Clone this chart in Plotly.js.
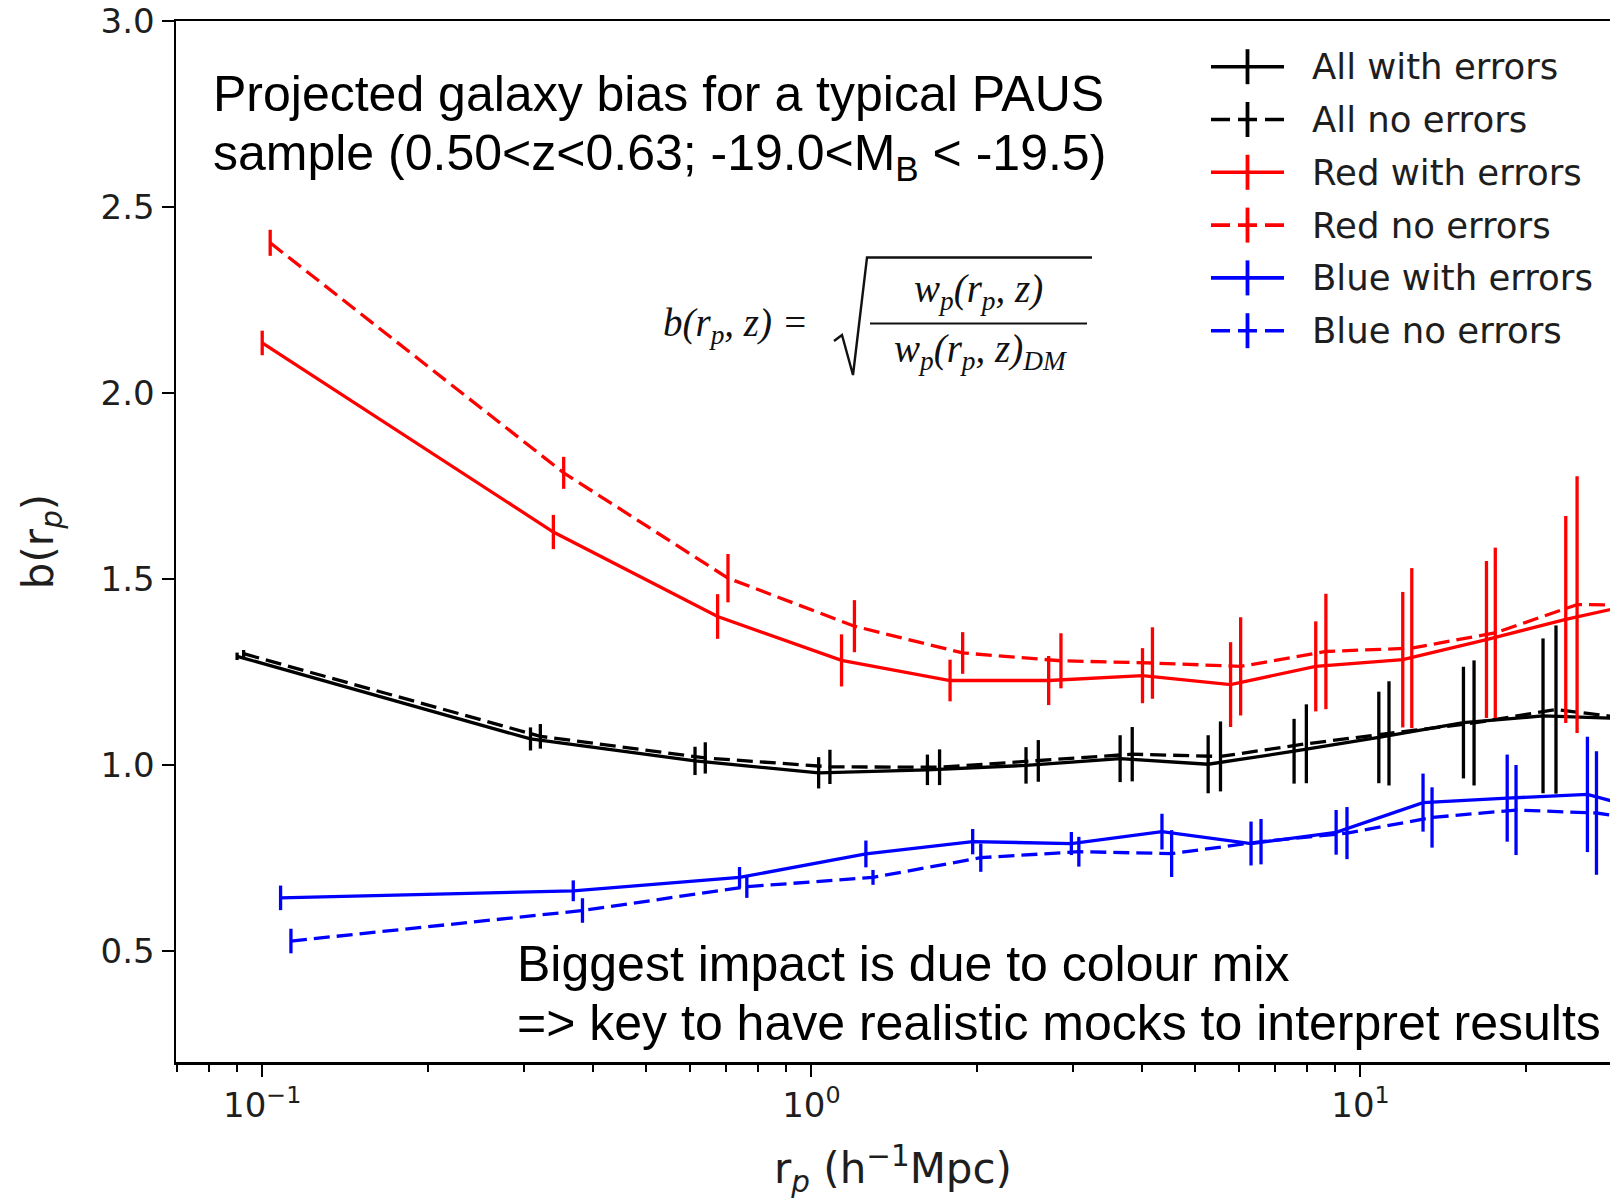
<!DOCTYPE html>
<html>
<head>
<meta charset="utf-8">
<script src="https://cdn.plot.ly/plotly-3.0.1.min.js"></script>
<style>html,body{margin:0;padding:0;background:#fff;}</style>
</head>
<body>
<div id="chart" style="width:1610px;height:1202px;"></div>
<script>
// ---- data ----
const allWithX   = [0.090, 0.308, 0.614, 1.031, 1.627, 2.46, 3.65, 5.28, 7.57, 10.8, 15.4, 21.5, 30.8];
const allWithY   = [1.293, 1.071, 1.012, 0.980, 0.988, 1.000, 1.018, 1.003, 1.038, 1.075, 1.115, 1.133, 1.125];
const allWithErr = [0.010, 0.031, 0.038, 0.042, 0.041, 0.049, 0.063, 0.078, 0.087, 0.123, 0.150, 0.208, 0.250];

const allNoX   = [0.0925, 0.321, 0.641, 1.081, 1.712, 2.59, 3.84, 5.56, 7.97, 11.27, 16.1, 22.7, 32.5];
const allNoY   = [1.300, 1.078, 1.020, 0.996, 0.995, 1.012, 1.030, 1.024, 1.058, 1.086, 1.114, 1.150, 1.122];
const allNoErr = [0.010, 0.033, 0.042, 0.046, 0.048, 0.056, 0.073, 0.094, 0.106, 0.140, 0.168, 0.226, 0.270];

const redWithX   = [0.100, 0.339, 0.675, 1.135, 1.789, 2.705, 4.009, 5.80, 8.29, 11.94, 16.96, 23.65, 33.8];
const redWithY   = [2.135, 1.627, 1.400, 1.282, 1.228, 1.228, 1.241, 1.217, 1.266, 1.284, 1.338, 1.392, 1.443];
const redWithErr = [0.033, 0.046, 0.060, 0.070, 0.056, 0.066, 0.074, 0.114, 0.121, 0.182, 0.211, 0.278, 0.330];

const redNoX   = [0.1034, 0.354, 0.705, 1.198, 1.886, 2.848, 4.18, 6.05, 8.65, 12.4, 17.6, 24.8, 35.5];
const redNoY   = [2.404, 1.786, 1.503, 1.374, 1.302, 1.281, 1.275, 1.266, 1.306, 1.315, 1.356, 1.432, 1.430];
const redNoErr = [0.035, 0.043, 0.065, 0.070, 0.056, 0.074, 0.096, 0.132, 0.155, 0.215, 0.229, 0.345, 0.400];

const blueWithX   = [0.108, 0.3685, 0.740, 1.257, 1.967, 2.975, 4.35, 6.32, 9.03, 13.0, 18.5, 25.9, 37.0];
const blueWithY   = [0.644, 0.663, 0.699, 0.762, 0.795, 0.790, 0.822, 0.790, 0.820, 0.900, 0.912, 0.922, 0.860];
const blueWithErr = [0.033, 0.028, 0.028, 0.036, 0.034, 0.031, 0.048, 0.059, 0.060, 0.078, 0.117, 0.155, 0.190];

const blueNoX   = [0.1128, 0.383, 0.763, 1.295, 2.035, 3.07, 4.53, 6.59, 9.45, 13.5, 19.2, 26.9, 38.5];
const blueNoY   = [0.528, 0.610, 0.674, 0.699, 0.752, 0.768, 0.763, 0.795, 0.818, 0.860, 0.880, 0.872, 0.840];
const blueNoErr = [0.033, 0.033, 0.030, 0.020, 0.038, 0.040, 0.063, 0.061, 0.070, 0.081, 0.121, 0.166, 0.200];

const seriesNames = ['All with errors', 'All no errors', 'Red with errors', 'Red no errors', 'Blue with errors', 'Blue no errors'];
const seriesColors = ['#000000', '#000000', '#ff0000', '#ff0000', '#0000ff', '#0000ff'];
const seriesDashed = [false, true, false, true, false, true];

const xMajorTicks = [0.1, 1, 10];
const xMajorLabels = ['10<sup>−1</sup>', '10<sup>0</sup>', '10<sup>1</sup>'];
const xMinorTicks = [0.07, 0.08, 0.09, 0.2, 0.3, 0.4, 0.5, 0.6, 0.7, 0.8, 0.9, 2, 3, 4, 5, 6, 7, 8, 9, 20];
const yTicks = [0.5, 1.0, 1.5, 2.0, 2.5, 3.0];
const yTickLabels = ['0.5', '1.0', '1.5', '2.0', '2.5', '3.0'];

const titleLine1 = 'Projected galaxy bias for a typical PAUS';
const titleLine2 = 'sample (0.50&lt;z&lt;0.63; -19.0&lt;M<sub>B</sub> &lt; -19.5)';
const noteLine1 = 'Biggest impact is due to colour mix';
const noteLine2 = '=&gt; key to have realistic mocks to interpret results';

// ---- styling / layout ----
const DASH = '16px,7px';
const LW = 3.3;
const xs = [allWithX, allNoX, redWithX, redNoX, blueWithX, blueNoX];
const ys = [allWithY, allNoY, redWithY, redNoY, blueWithY, blueNoY];
const es = [allWithErr, allNoErr, redWithErr, redNoErr, blueWithErr, blueNoErr];

const traces = seriesNames.map((n, i) => ({
  type: 'scatter', mode: 'lines', name: n,
  x: xs[i], y: ys[i],
  line: {color: seriesColors[i], width: LW, dash: seriesDashed[i] ? DASH : 'solid'},
  error_y: {type: 'data', array: es[i], visible: true, color: seriesColors[i], thickness: 3.3, width: 0},
  showlegend: false, cliponaxis: true
}));

const L = 176, T = 21, B = 140, FW = 1610, FH = 1202;
const W = FW - L, H = FH - T - B;
const px = X => (X - L) / W;
const py = Y => (T + H - Y) / H;

const textColor = '#1e1e1e';
const annotations = [];
const shapes = [];

// Slide texts
const sans = 'Liberation Sans, Arial, sans-serif';
[[titleLine1, 211, 94], [titleLine2, 211, 156], [noteLine1, 515, 964], [noteLine2, 515, 1023]].forEach(([t, x, y]) => {
  annotations.push({xref: 'paper', yref: 'paper', x: px(x), y: py(y), xanchor: 'left', yanchor: 'middle',
    text: t, showarrow: false, font: {family: sans, size: 50, color: '#000'}});
});

// Legend (custom, matching the matplotlib look)
const legX1 = 1211, legX2 = 1284, legTextX = 1310, legY0 = 66.7, legDY = 52.8;
seriesNames.forEach((n, i) => {
  const y = legY0 + i * legDY;
  shapes.push({type: 'line', xref: 'paper', yref: 'paper', x0: px(legX1), x1: px(legX2), y0: py(y), y1: py(y),
    line: {color: seriesColors[i], width: 3.6, dash: seriesDashed[i] ? '19px,8px' : 'solid'}});
  const xm = (legX1 + legX2) / 2;
  shapes.push({type: 'line', xref: 'paper', yref: 'paper', x0: px(xm), x1: px(xm), y0: py(y - 17.5), y1: py(y + 17.5),
    line: {color: seriesColors[i], width: 3.8}});
  annotations.push({xref: 'paper', yref: 'paper', x: px(legTextX), y: py(y), xanchor: 'left', yanchor: 'middle',
    text: n, showarrow: false, font: {family: 'DejaVu Sans', size: 35.5, color: textColor}});
});

// Equation  b(r_p, z) = sqrt( w_p(r_p,z) / w_p(r_p,z)_DM )
const serif = 'Liberation Serif, Times New Roman, serif';
const eqFont = {family: serif, size: 39, color: '#111', style: 'italic'};
annotations.push({xref: 'paper', yref: 'paper', x: px(661), y: py(325), xanchor: 'left', yanchor: 'middle',
  text: 'b(r<sub>p</sub>,\u00a0z)\u00a0=', showarrow: false, font: eqFont});
annotations.push({xref: 'paper', yref: 'paper', x: px(978), y: py(291), xanchor: 'center', yanchor: 'middle',
  text: 'w<sub>p</sub>(r<sub>p</sub>,\u00a0z)', showarrow: false, font: eqFont});
annotations.push({xref: 'paper', yref: 'paper', x: px(980), y: py(351), xanchor: 'center', yanchor: 'middle',
  text: 'w<sub>p</sub>(r<sub>p</sub>,\u00a0z)<sub>DM</sub>', showarrow: false, font: eqFont});
shapes.push({type: 'line', xref: 'paper', yref: 'paper', x0: px(870), x1: px(1087), y0: py(323.5), y1: py(323.5),
  line: {color: '#111', width: 2}});
shapes.push({type: 'path', xref: 'paper', yref: 'paper',
  path: `M ${px(834)},${py(341)} L ${px(842)},${py(335)} L ${px(853)},${py(375)} L ${px(867)},${py(257.5)} L ${px(1092)},${py(257.5)}`,
  line: {color: '#111', width: 2.4}});

const tickFont = {family: 'DejaVu Sans', size: 34, color: textColor};
const titleFont = {family: 'DejaVu Sans', size: 42, color: textColor};
const layout = {
  width: FW, height: FH,
  margin: {l: L, r: 0, t: T, b: B, pad: 0},
  paper_bgcolor: '#ffffff', plot_bgcolor: '#ffffff',
  showlegend: false,
  xaxis: {
    type: 'log', range: [-1.157, 1.4544], autorange: false,
    showline: true, linecolor: '#000', linewidth: 2.5, mirror: true,
    showgrid: false, zeroline: false,
    tickmode: 'array', tickvals: xMajorTicks, ticktext: xMajorLabels,
    ticks: 'outside', ticklen: 12, tickwidth: 2, tickcolor: '#000',
    tickfont: tickFont,
    minor: {tickmode: 'array', tickvals: xMinorTicks, ticks: 'outside', ticklen: 7, tickwidth: 2, tickcolor: '#000', showgrid: false},
    title: {text: 'r<sub><i>p</i></sub> (h<sup>−1</sup>Mpc)', font: titleFont, standoff: 30},
    automargin: false
  },
  yaxis: {
    range: [0.203, 3.0], autorange: false,
    showline: true, linecolor: '#000', linewidth: 2.5, mirror: false,
    showgrid: false, zeroline: false,
    tickmode: 'array', tickvals: yTicks, ticktext: yTickLabels,
    ticks: 'outside', ticklen: 12, tickwidth: 2, tickcolor: '#000',
    tickfont: tickFont,
    title: {text: 'b(r<sub><i>p</i></sub>)', font: titleFont, standoff: 34},
    automargin: false
  },
  annotations: annotations,
  shapes: shapes
};

Plotly.newPlot('chart', traces, layout, {displayModeBar: false, staticPlot: true});
</script>
</body>
</html>
